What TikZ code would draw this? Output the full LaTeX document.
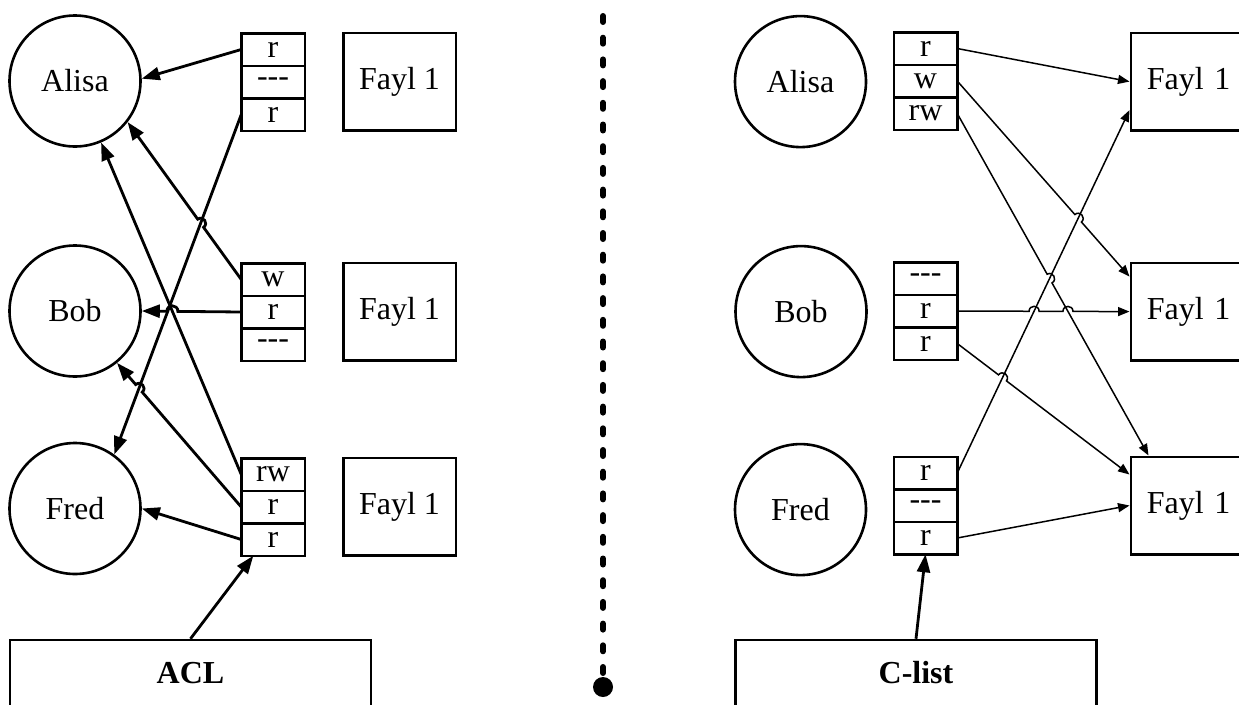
\documentclass[tikz,border=0pt]{standalone}
\usepackage{fontspec}
\setmainfont{Liberation Serif}
\usetikzlibrary{arrows.meta, positioning, calc}
\tikzset{
  person/.style  = {circle, draw, line width=2.6pt, minimum size=131pt, inner sep=0pt},
  cell/.style    = {rectangle, draw, line width=2.5pt, minimum width=63.5pt, minimum height=32.5pt,
                    inner sep=0pt, outer sep=0pt},
  fayl/.style    = {rectangle, draw, line width=2.5pt, minimum width=112.5pt, minimum height=97.5pt},
  faylcut/.style = {fayl, anchor=north west, text width=112pt, inner xsep=16pt, align=left},
  listbox/.style = {rectangle, draw, line width=2.5pt, minimum width=361pt, minimum height=66pt,
                    font=\fontsize{32}{38}\selectfont\bfseries},
  aclflow/.style = {-{Triangle[length=18pt, width=13pt]}, line width=2.8pt},
  capflow/.style = {-{Triangle[length=11.5pt, width=9pt]}, line width=1.5pt},
  hopwest/.style = {bend right=90, looseness=1.7},
  hopeast/.style = {bend left=90, looseness=1.7},
}

\begin{document}
\begin{tikzpicture}[x=1pt, y=-1pt, font=\fontsize{32}{38}\selectfont]
  \clip (0,0) rectangle (1239,704);

  % ACL side
  \node[person] (alisaL) at (75,81)  {Alisa};
  \node[person] (bobL)   at (75,311) {Bob};
  \node[person] (fredL)  at (75,508.5) {Fred};

  \node[cell] (al1) at (273,49.5) {r};
  \node[cell, below=0pt of al1] (al2) {-{}-{}-};
  \node[cell, below=0pt of al2] (al3) {r};
  \node[cell] (bo1) at (273,279.5) {w};
  \node[cell, below=0pt of bo1] (bo2) {r};
  \node[cell, below=0pt of bo2] (bo3) {-{}-{}-};
  \node[cell] (fr1) at (273,474.5) {rw};
  \node[cell, below=0pt of fr1] (fr2) {r};
  \node[cell, below=0pt of fr2] (fr3) {r};

  \node[fayl] (faL1) at (399.5,81.5)  {Fayl 1};
  \node[fayl] (faL2) at (399.5,311.5) {Fayl 1};
  \node[fayl] (faL3) at (399.5,506.5) {Fayl 1};

  \node[listbox] (acl) at (190.5,673) {ACL};

  \draw[aclflow] (al1.west) -- (alisaL.2);
  \draw[aclflow] (al3.west) -- (fredL.54);
  \draw[aclflow] (fr1.west) -- (alisaL.-67);
  \draw[aclflow] (fr3.west) -- (fredL.east);

  \coordinate (xBo1) at (intersection of al3.west--fredL.54 and bo1.west--alisaL.-38);
  \draw[aclflow] (bo1.west) -- ($(xBo1)!5pt!(bo1.west)$) to[hopwest] ($(xBo1)!5pt!(alisaL.-38)$) -- (alisaL.-38);
  \coordinate (xBo2) at (intersection of fr1.west--alisaL.-67 and bo2.west--bobL.east);
  \draw[aclflow] (bo2.west) -- ($(xBo2)!5.5pt!(bo2.west)$) to[hopwest] ($(xBo2)!5.5pt!(bobL.east)$) -- (bobL.east);
  \coordinate (xFr2) at (intersection of al3.west--fredL.54 and fr2.west--bobL.-51);
  \draw[aclflow] (fr2.west) -- ($(xFr2)!5pt!(fr2.west)$) to[hopwest] ($(xFr2)!5pt!(bobL.-51)$) -- (bobL.-51);

  \draw[aclflow] (acl.north) -- ($(fr3.south west)!0.19!(fr3.south east)$);

  % separator
  \coordinate (sepTop) at (603,16);
  \node[circle, fill, inner sep=0pt, minimum size=20pt] (sepEnd) at (603,687) {};
  \draw[line width=6pt, line cap=round, dash pattern=on 6pt off 15.7pt] (sepTop) -- (sepEnd.center);

  % C-list side
  \node[person] (alisaR) at (800.5,81.6)  {Alisa};
  \node[person] (bobR)   at (801,311.6)   {Bob};
  \node[person] (fredR)  at (800.5,509.6) {Fred};

  \node[cell] (ra1) at (925.5,48.5) {r};
  \node[cell, below=0pt of ra1] (ra2) {w};
  \node[cell, below=0pt of ra2] (ra3) {rw};
  \node[cell] (rb1) at (925.5,278.5) {-{}-{}-};
  \node[cell, below=0pt of rb1] (rb2) {r};
  \node[cell, below=0pt of rb2] (rb3) {r};
  \node[cell] (rf1) at (925.5,473) {r};
  \node[cell, below=0pt of rf1] (rf2) {-{}-{}-};
  \node[cell, below=0pt of rf2] (rf3) {r};

  \node[faylcut] (faR1) at (1129.5,31.6)  {Fayl 1};
  \node[faylcut] (faR2) at (1129.5,261.6) {Fayl 1};
  \node[faylcut] (faR3) at (1129.5,455.5) {Fayl 1};

  \node[listbox] (clist) at (916,673) {C-list};

  \coordinate (fR1b) at ($(faR1.south west)+(0,-21.5)$);
  \coordinate (fR2a) at ($(faR2.north west)+(0,15)$);
  \coordinate (fR3a) at ($(faR3.north west)+(19,0)$);
  \coordinate (fR3b) at ($(faR3.north west)+(0,19)$);

  \draw[capflow] (ra1.east) -- (faR1.west);
  \draw[capflow] (rf1.east) -- (fR1b);
  \draw[capflow] (rf3.east) -- (faR3.west);

  \coordinate (xRa2) at (intersection of ra2.east--fR2a and rf1.east--fR1b);
  \draw[capflow] (ra2.east) -- ($(xRa2)!5pt!(ra2.east)$) to[hopeast] ($(xRa2)!5pt!(fR2a)$) -- (fR2a);
  \coordinate (xRa3) at (intersection of ra3.east--fR3a and rf1.east--fR1b);
  \draw[capflow] (ra3.east) -- ($(xRa3)!5pt!(ra3.east)$) to[hopeast] ($(xRa3)!5pt!(fR3a)$) -- (fR3a);
  \coordinate (xRb2a) at (intersection of rb2.east--faR2.west and rf1.east--fR1b);
  \coordinate (xRb2b) at (intersection of rb2.east--faR2.west and ra3.east--fR3a);
  \draw[capflow] (rb2.east) -- ($(xRb2a)!5pt!(rb2.east)$) to[hopeast] ($(xRb2a)!5pt!(faR2.west)$)
    -- ($(xRb2b)!5pt!(rb2.east)$) to[hopeast] ($(xRb2b)!5pt!(faR2.west)$) -- (faR2.west);
  \coordinate (xRb3) at (intersection of rb3.east--fR3b and rf1.east--fR1b);
  \draw[capflow] (rb3.east) -- ($(xRb3)!5pt!(rb3.east)$) to[hopeast] ($(xRb3)!5pt!(fR3b)$) -- (fR3b);

  \draw[aclflow] (clist.north) -- (rf3.south);
\end{tikzpicture}
\end{document}
